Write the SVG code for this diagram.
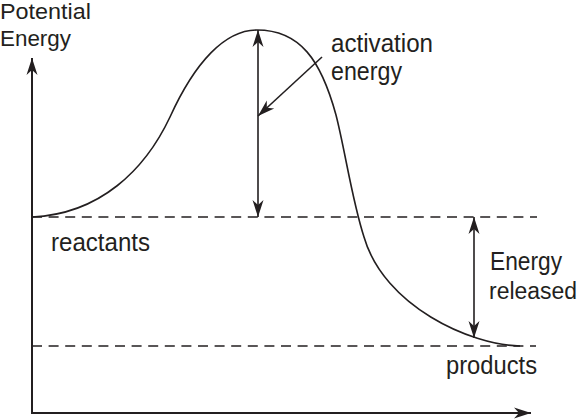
<svg xmlns="http://www.w3.org/2000/svg" width="580" height="419" viewBox="0 0 580 419">
<style>
.ln{stroke:#231f20;stroke-width:1.6;fill:none}
.ax{stroke:#231f20;stroke-width:2;fill:none}
.dash{stroke:#231f20;stroke-width:1.6;fill:none;stroke-dasharray:10 6.6}
.lbl{font-family:"Liberation Sans",Arial,sans-serif;font-size:25px;fill:#231f20}
.sm{font-size:22px}
.rel{font-size:23.5px}
</style>
<defs>
<marker id="ah" viewBox="-18 -7 19 14" markerWidth="19" markerHeight="14" refX="0" refY="0" orient="auto-start-reverse" markerUnits="userSpaceOnUse">
<path d="M0,0 L-17,-5.5 L-12,0 L-17,5.5 Z" fill="#231f20"/>
</marker>
</defs>
<rect width="580" height="419" fill="#ffffff"/>
<g id="connectors">
<line class="ax" x1="32" y1="413" x2="32" y2="58" marker-end="url(#ah)"/>
<line class="ax" x1="31" y1="413" x2="531" y2="413" marker-end="url(#ah)"/>
<line class="dash" x1="32" y1="217" x2="537" y2="217"/>
<line class="dash" x1="32" y1="346" x2="536" y2="346"/>
<path class="ln" d="M32,217 C100,214 145,170 170,117 C195,62 225,30 257,30 C300,30 321,60 336,115 C345,150 352,200 364,237 C384,306 470,345 520,346"/>
<line class="ln" x1="258" y1="30" x2="258" y2="217" marker-start="url(#ah)" marker-end="url(#ah)"/>
<line class="ln" x1="322" y1="57" x2="258" y2="116" marker-end="url(#ah)"/>
<line class="ln" x1="474" y1="217" x2="474" y2="338" marker-start="url(#ah)" marker-end="url(#ah)"/>
</g>
<g id="axis-label">
<text class="lbl sm" x="0" y="19" textLength="91" lengthAdjust="spacingAndGlyphs">Potential</text>
<text class="lbl sm" x="0" y="46" textLength="71" lengthAdjust="spacingAndGlyphs">Energy</text>
</g>
<g id="activation-label">
<text class="lbl" x="331" y="52" textLength="102" lengthAdjust="spacingAndGlyphs">activation</text>
<text class="lbl" x="331" y="80" textLength="71" lengthAdjust="spacingAndGlyphs">energy</text>
</g>
<g id="reactants">
<text class="lbl" x="51" y="251" textLength="99" lengthAdjust="spacingAndGlyphs">reactants</text>
</g>
<g id="energy-released">
<text class="lbl" x="490" y="270" textLength="72" lengthAdjust="spacingAndGlyphs">Energy</text>
<text class="lbl rel" x="489" y="299" textLength="88" lengthAdjust="spacingAndGlyphs">released</text>
</g>
<g id="products">
<text class="lbl" x="446" y="374" textLength="91" lengthAdjust="spacingAndGlyphs">products</text>
</g>
</svg>
